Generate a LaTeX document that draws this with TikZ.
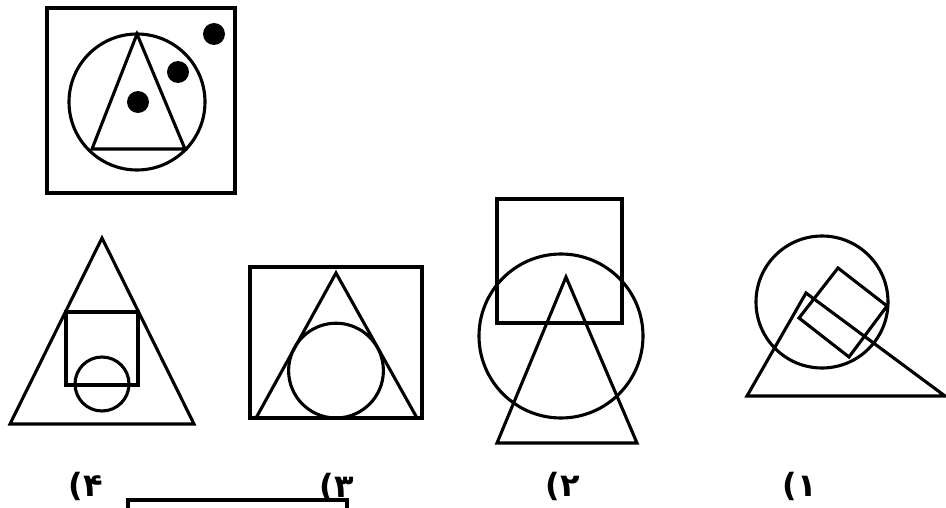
\documentclass[tikz,border=0pt]{standalone}
\usepackage{fontspec}
\usetikzlibrary{positioning}
\newfontfamily\digitfont{DejaVu Sans}

\begin{document}
\begin{tikzpicture}[x=1pt,y=-1pt,
  fig/.style={line width=3.1pt},
  frame/.style={line width=3.8pt},
  dot/.style={fill=black},
  lbl/.style={font=\digitfont\bfseries\fontsize{32}{36}\selectfont,inner sep=0pt}
]
\useasboundingbox (0,0) rectangle (946,508);
\clip (0,0) rectangle (946,508);
% question figure
\draw[frame] (47,8) rectangle (235,193);
\draw[fig] (137,102) circle (68);
\draw[fig] (137,34) -- (92,149) -- (185,149) -- cycle;
\fill[dot] (214,34) circle (11);
\fill[dot] (178,72) circle (11);
\fill[dot] (138,102) circle (11);
% option 4
\draw[fig] (102,238) -- (10,424) -- (194,424) -- cycle;
\draw[fig] (66,312) rectangle (138,385);
\draw[fig] (102,384) circle (27);
% option 3
\draw[frame] (250,267) rectangle (422,418);
\draw[fig] (336,273) -- (256,418) -- (417,418) -- cycle;
\draw[fig] (336,370.6) circle (47.4);
% option 2
\draw[fig] (497,199) rectangle (622,323);
\draw[fig] (561,336) circle (82);
\draw[fig] (566,277) -- (497,443) -- (637,443) -- cycle;
% option 1
\draw[fig] (822,302) circle (66);
\draw[fig] (806,293) -- (747,396) -- (945,396) -- cycle;
\draw[fig] (838,268) -- (887,306) -- (849,357) -- (799,318) -- cycle;
% labels
\node[lbl] (l4) at (86,486) {(۴};
\node[lbl] (l3) at (337,487) {(۳};
\node[lbl] (l2) at (563,486) {(۲};
\node[lbl] (l1) at (800,486) {(۱};
% box cut at the bottom edge
\draw[frame] (128,500) rectangle (347,540);
\end{tikzpicture}
\end{document}
